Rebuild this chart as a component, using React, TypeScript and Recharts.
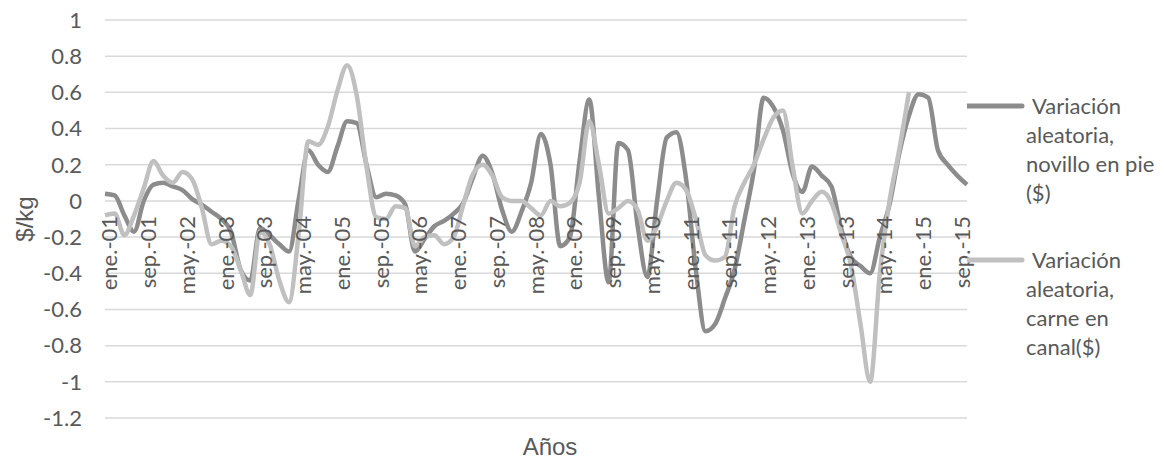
import { LineChart, Line, XAxis, YAxis, CartesianGrid, Legend } from "recharts"

// bimonthly observations, ene.-01 .. nov.-15
const monthNames = ["ene.", "mar.", "may.", "jul.", "sep.", "nov."]
const years = ["01", "02", "03", "04", "05", "06", "07", "08", "09", "10", "11", "12", "13", "14", "15"]
const categories = years.flatMap((y) => monthNames.map((m) => `${m}-${y}`))

// Variación aleatoria, novillo en pie ($)
const novillo = [
  0.04, 0.03, -0.08, -0.17, 0.0, 0.09, 0.1, 0.08, 0.06, 0.01,
  -0.02, -0.06, -0.1, -0.17, -0.38, -0.44, -0.15, -0.19, -0.24, -0.28,
  0.01, 0.28, 0.2, 0.16, 0.3, 0.44, 0.43, 0.2, 0.02, 0.04,
  0.03, -0.02, -0.28, -0.21, -0.14, -0.11, -0.07, -0.01, 0.13, 0.25,
  0.15, -0.05, -0.17, -0.06, 0.1, 0.37, 0.2, -0.25, -0.2, 0.22,
  0.56, 0.02, -0.45, 0.32, 0.28, -0.14, -0.42, 0.0, 0.35, 0.38,
  0.12, -0.38, -0.72, -0.68, -0.54, -0.38, -0.11, 0.17, 0.57, 0.52,
  0.39, 0.15, 0.05, 0.19, 0.14, 0.08, -0.15, -0.31, -0.36, -0.4,
  -0.2, -0.02, 0.26, 0.47, 0.59, 0.57, 0.28, 0.2, 0.14, 0.09,
]

// Variación aleatoria, carne en canal ($) - series stops at nov.-14
const canal = [
  -0.08, -0.07, -0.19, -0.08, 0.07, 0.22, 0.14, 0.1, 0.16, 0.12,
  -0.04, -0.24, -0.22, -0.25, -0.38, -0.52, -0.17, -0.24, -0.44, -0.56,
  -0.18, 0.33, 0.31, 0.41, 0.61, 0.75, 0.58, 0.19, -0.09, -0.1,
  -0.03, -0.04, -0.25, -0.2, -0.19, -0.24, -0.2, -0.02, 0.15, 0.2,
  0.14, 0.02, 0.0, 0.0, -0.04, -0.08, 0.0, -0.03, -0.01, 0.1,
  0.44, 0.2, -0.07, -0.04, 0.0, -0.05, -0.22, -0.14, 0.0, 0.1,
  0.06, -0.1, -0.3, -0.33, -0.31, -0.03, 0.1, 0.2, 0.34, 0.46,
  0.5, 0.19, -0.07, 0.0, 0.05, -0.01, -0.18, -0.35, -0.68, -1.0,
  -0.4, 0.0, 0.28, 0.6,
]

const yTicks = [-1.2, -1, -0.8, -0.6, -0.4, -0.2, 0, 0.2, 0.4, 0.6, 0.8, 1]

const data = categories.map((name, i) => ({
  name,
  novillo: novillo[i] ?? null,
  canal: canal[i] ?? null,
}))

const DARK = "#8c8c8c"
const LIGHT = "#c0c0c0"
const TEXT = "#595959"
const FONT = "Lato, 'Open Sans', sans-serif"
const TITLE_FONT = "'Liberation Sans', Arial, sans-serif"

const margin = { top: 20, right: 0, bottom: 12, left: 0 }
const PLOT_TOP = 20
const PLOT_BOTTOM = 418
const Y_MIN = -1.2
const Y_MAX = 1
// category labels sit just under the zero line, like Excel's crossing axis
const zeroY = PLOT_TOP + ((PLOT_BOTTOM - PLOT_TOP) * Y_MAX) / (Y_MAX - Y_MIN)

function MonthTick({ x, payload }: any) {
  const tx = x + 4
  const ty = zeroY + 15
  return (
    <text
      x={tx}
      y={ty}
      transform={`rotate(-90 ${tx} ${ty})`}
      textAnchor="end"
      dominantBaseline="central"
      fill={TEXT}
      fontSize={22}
      fontFamily={FONT}
    >
      {payload.value}
    </text>
  )
}

function YTitle({ viewBox }: any) {
  const cx = viewBox.x + 24
  const cy = viewBox.y + viewBox.height / 2
  return (
    <text
      x={cx}
      y={cy}
      transform={`rotate(-90 ${cx} ${cy})`}
      textAnchor="middle"
      dominantBaseline="central"
      fill={TEXT}
      fontSize={24}
      fontFamily={TITLE_FONT}
    >
      $/kg
    </text>
  )
}

function XTitle({ viewBox }: any) {
  return (
    <text
      x={viewBox.x + viewBox.width / 2 + 14}
      y={viewBox.y + 37}
      textAnchor="middle"
      fill={TEXT}
      fontSize={24}
      fontFamily={TITLE_FONT}
    >
      Años
    </text>
  )
}

const legendItems = [
  { color: DARK, lines: ["Variación", "aleatoria,", "novillo en pie", "($)"], top: 26 },
  { color: LIGHT, lines: ["Variación", "aleatoria,", "carne en", "canal($)"], top: 180 },
]

function SideLegend() {
  return (
    <svg width={197} height={300}>
      {legendItems.map((item) => (
        <g key={item.lines[2]}>
          <line x1={0} x2={55} y1={item.top} y2={item.top} stroke={item.color} strokeWidth={5} strokeLinecap="round" />
          {item.lines.map((t, k) => (
            <text
              key={t}
              x={k === 0 ? 65 : 59}
              y={item.top + 8 + k * 29}
              fill={TEXT}
              fontSize={22}
              fontFamily={FONT}
            >
              {t}
            </text>
          ))}
        </g>
      ))}
    </svg>
  )
}

export default function App() {
  return (
    <div style={{ position: "absolute", left: 0, top: 0, background: "#fff" }}>
      <LineChart width={1164} height={460} data={data} margin={margin}>
        <CartesianGrid vertical={false} stroke="#d9d9d9" strokeWidth={1.5} />
        <XAxis
          dataKey="name"
          interval={3}
          tick={<MonthTick />}
          tickLine={false}
          axisLine={false}
          height={30}
          label={<XTitle />}
        />
        <YAxis
          domain={[Y_MIN, Y_MAX]}
          ticks={yTicks}
          width={105}
          tickLine={false}
          axisLine={false}
          tickSize={0}
          tickMargin={23}
          tickFormatter={(v: number) => String(Number(v.toFixed(1)))}
          tick={{ fill: TEXT, fontSize: 22, fontFamily: FONT }}
          label={<YTitle />}
        />
        <Legend
          layout="vertical"
          align="right"
          verticalAlign="top"
          wrapperStyle={{ width: 197, top: 80 }}
          content={<SideLegend />}
        />
        <Line
          type="monotone"
          dataKey="novillo"
          stroke={DARK}
          strokeWidth={4.5}
          dot={false}
          activeDot={false}
          isAnimationActive={false}
        />
        <Line
          type="monotone"
          dataKey="canal"
          stroke={LIGHT}
          strokeWidth={4.5}
          dot={false}
          activeDot={false}
          isAnimationActive={false}
        />
      </LineChart>
    </div>
  )
}
